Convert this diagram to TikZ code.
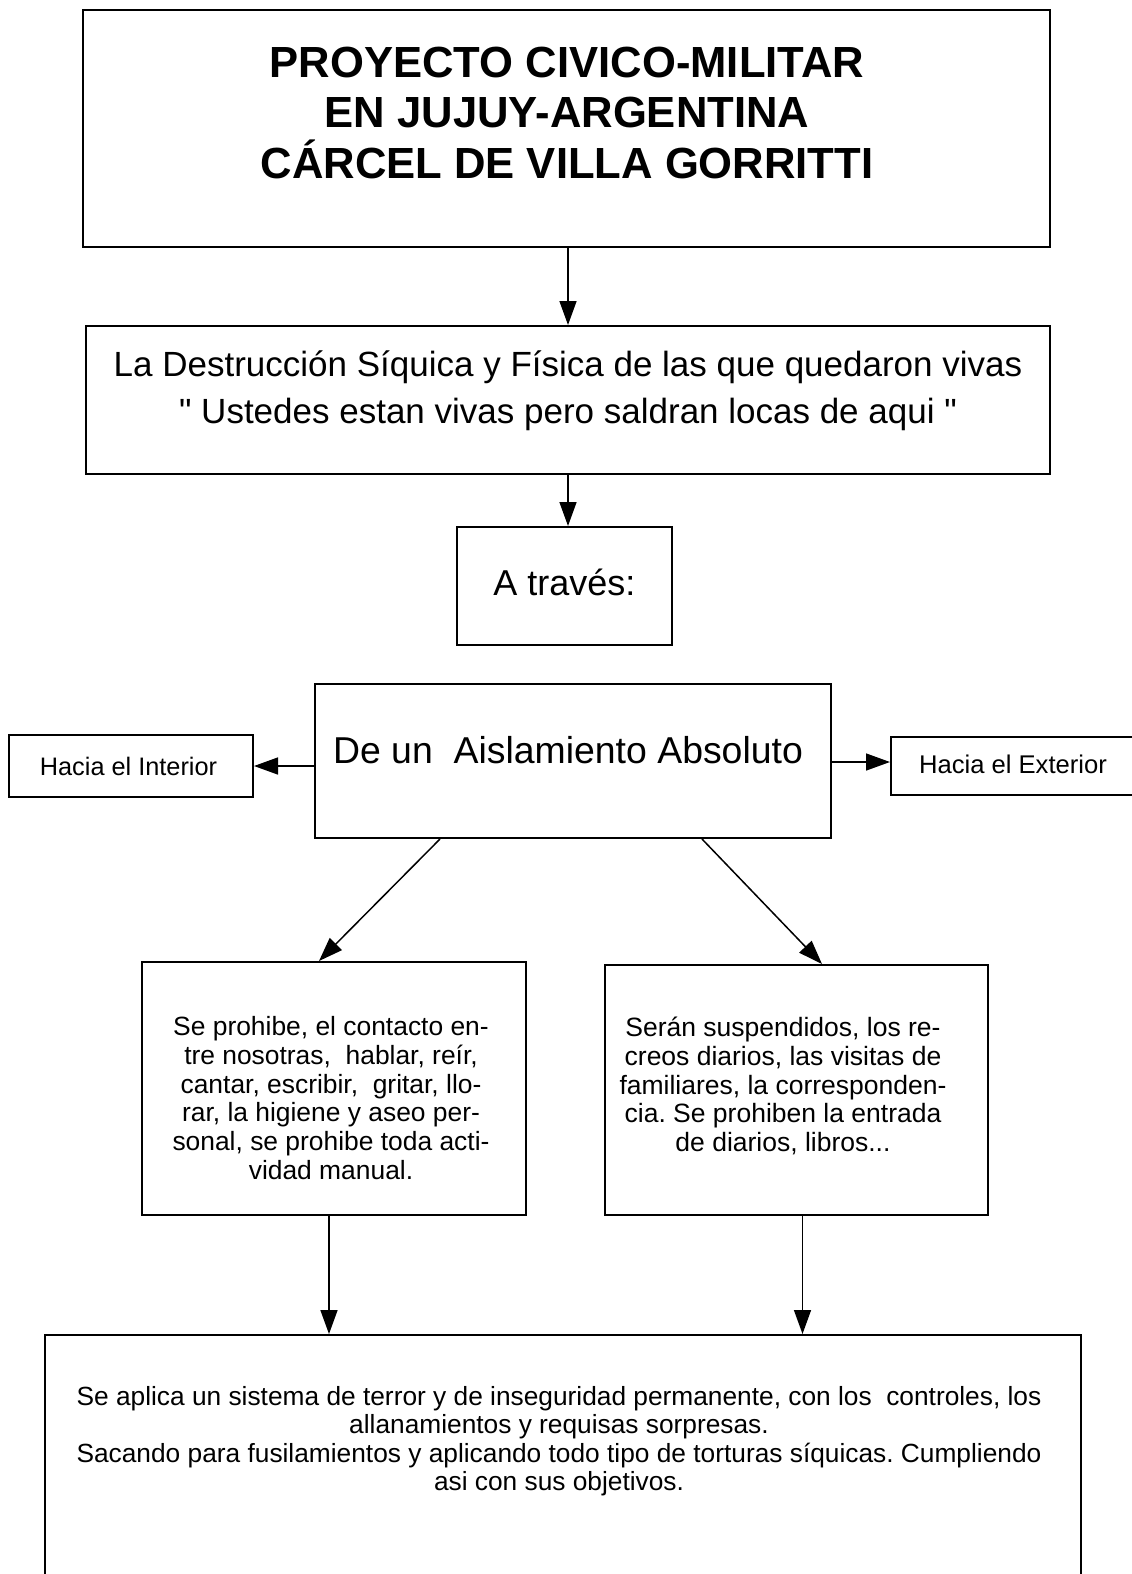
\documentclass[tikz,border=0pt]{standalone}
\usepackage{fontspec}
\setmainfont{Liberation Sans}[Ligatures=TeXOff]
\usetikzlibrary{arrows.meta}
\frenchspacing

\begin{document}
\begin{tikzpicture}[x=1pt, y=-1pt,
    caja/.style={draw, line width=2pt, inner sep=0pt},
    flecha/.style={line width=1.5pt, -{Triangle[length=24pt, width=17pt]}},
    texto/.style={align=center, inner sep=0pt}]
  \useasboundingbox (0,0) rectangle (1132,1574);

  % titulo
  \node[caja, minimum width=967pt, minimum height=237pt] (titulo) at (566.5,128.5) {};
  \node[texto, font=\bfseries\fontsize{43.6}{50.5}\selectfont] (titulotxt) at (567,112.5)
    {PROYECTO CIVICO-MILITAR\\EN JUJUY-ARGENTINA\\CÁRCEL DE VILLA GORRITTI};

  % destruccion
  \node[caja, minimum width=964pt, minimum height=148pt] (destr) at (568,400) {};
  \node[texto, font=\fontsize{35}{47}\selectfont] (destrtxt) at (568,391)
    {La Destrucción Síquica y Física de las que quedaron vivas\\" Ustedes estan vivas pero saldran locas de aqui "};

  \node[caja, minimum width=215pt, minimum height=118pt] (traves) at (564.5,586) {};
  \node[texto, font=\fontsize{36}{40}\selectfont] (travestxt) at (564.5,582) {A través:};

  % aislamiento
  \node[caja, minimum width=516pt, minimum height=154pt] (aisl) at (573,761) {};
  \node[texto, font=\fontsize{37.4}{40}\selectfont] (aisltxt) at (568,750) {De un~~Aislamiento Absoluto};

  \node[caja, minimum width=244pt, minimum height=62pt] (interior) at (131,766) {};
  \node[texto, font=\fontsize{25.3}{28}\selectfont] (interiortxt) at (128.5,766) {Hacia el Interior};
  \node[caja, minimum width=244pt, minimum height=58pt] (exterior) at (1013,766) {};
  \node[texto, font=\fontsize{25.6}{28}\selectfont] (exteriortxt) at (1013,764) {Hacia el Exterior};

  % prohibiciones
  \node[caja, minimum width=384pt, minimum height=253pt] (prohib) at (334,1088.5) {};
  \node[texto, font=\fontsize{26.4}{28.7}\selectfont] (prohibtxt) at (331,1098)
    {Se prohibe, el contacto en-\\tre nosotras,~~hablar, reír,\\cantar, escribir,~~gritar, llo-\\rar, la higiene y aseo per-\\sonal, se prohibe toda acti-\\vidad manual.};
  \node[caja, minimum width=383pt, minimum height=250pt] (suspend) at (796.5,1090) {};
  \node[texto, font=\fontsize{26.5}{28.7}\selectfont] (suspendtxt) at (783,1086)
    {Serán suspendidos, los re-\\creos diarios, las visitas de\\familiares, la corresponden-\\cia. Se prohiben la entrada\\de diarios, libros...};

  % terror
  \node[caja, minimum width=1036pt, minimum height=270pt] (terror) at (563,1470) {};
  \node[texto, font=\fontsize{26.3}{28.5}\selectfont] (terrortxt) at (559,1441)
    {Se aplica un sistema de terror y de inseguridad permanente, con los~~controles, los\\allanamientos y requisas sorpresas.\\Sacando para fusilamientos y aplicando todo tipo de torturas síquicas. Cumpliendo\\asi con sus objetivos.};

  % flechas
  \draw[flecha] (destr.north |- titulo.south) -- (destr.north);
  \draw[flecha] (destr.south) -- (destr.south |- traves.north);
  \draw[flecha] (aisl.west |- interior) -- (interior.east);
  \draw[flecha] ([yshift=4pt]aisl.east |- exterior) -- ([yshift=4pt]exterior.west);
  \draw[flecha] ([xshift=126pt]aisl.south west) -- ([xshift=178pt]prohib.north west);
  \draw[flecha] ([xshift=-130pt]aisl.south east) -- ([xshift=218pt]suspend.north west);
  \draw[flecha] ([xshift=-5pt]prohib.south) -- ([xshift=-5pt]prohib.south |- terror.north);
  \draw[flecha] ([xshift=6pt]suspend.south) -- ([xshift=6pt]suspend.south |- terror.north);
\end{tikzpicture}
\end{document}
